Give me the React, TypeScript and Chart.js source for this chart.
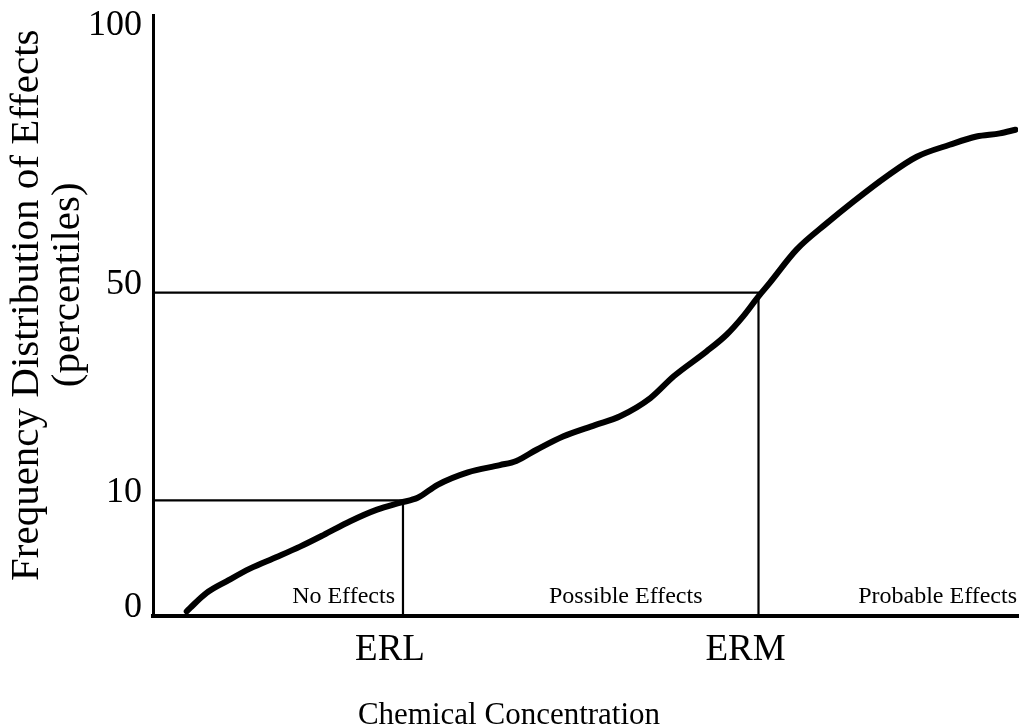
import { useEffect, useRef } from 'react';
import { Chart, registerables, LinearScale } from 'chart.js';

Chart.register(...registerables);

// ---- data ----
const concentration = [3.9, 4.3, 6.2, 8.5, 11.2, 14.3, 17.0, 19.7, 22.8, 25.9, 28.6, 30.6, 32.9, 36.4, 40.1, 42.0, 44.4, 47.4, 51.1, 54.0, 57.5, 60.2, 64.0, 66.3, 68.2, 70.0, 71.3, 74.4, 77.9, 81.0, 84.8, 88.3, 92.1, 95.2, 97.9, 99.7];
const percentile = [0.4, 0.7, 2.0, 3.0, 4.1, 5.1, 6.0, 7.0, 8.2, 9.2, 9.8, 10.5, 13.0, 15.4, 16.8, 17.6, 19.8, 22.3, 24.5, 26.2, 29.7, 33.9, 38.7, 41.9, 45.4, 49.3, 51.9, 58.3, 63.4, 67.6, 72.4, 76.2, 78.5, 80.1, 80.7, 81.4];
const yTickValues = [0, 10, 50, 100];
const xTickValues = [28.9, 70.0]; // ERL, ERM concentrations
const xTickLabels = ['ERL', 'ERM'];
const thresholdPercentiles = [10, 50];
const regionLabels = ['No Effects', 'Possible Effects', 'Probable Effects'];

const FONT = '"Liberation Serif", "Times New Roman", serif';

// Linear scale whose lowest segment (below breakValue) is stretched by a factor
class StretchedScale extends LinearScale {
  static id = 'stretched';
  static defaults = {};
  _tf(v: number) {
    const b = (this.options as any).breakValue;
    const k = (this.options as any).stretch;
    return v <= b ? v * k : b * k + (v - b);
  }
  _inv(t: number) {
    const b = (this.options as any).breakValue;
    const k = (this.options as any).stretch;
    return t <= b * k ? t / k : t - b * k + b;
  }
  getPixelForValue(value: number) {
    const t0 = this._tf(this.min);
    const t1 = this._tf(this.max);
    return this.getPixelForDecimal((this._tf(value) - t0) / (t1 - t0));
  }
  getValueForPixel(pixel: number) {
    const t0 = this._tf(this.min);
    const t1 = this._tf(this.max);
    const d = this.getDecimalForPixel(pixel);
    return this._inv(t0 + d * (t1 - t0));
  }
}
Chart.register(StretchedScale as any);

const regionLabelPlugin = {
  id: 'regionLabels',
  afterDatasetsDraw(chart: any) {
    const { ctx, chartArea, scales } = chart;
    const x = scales.x;
    const y = scales.y;
    const base = y.getPixelForValue(0) - 13;
    const rights = [
      x.getPixelForValue(xTickValues[0]) - 8,
      x.getPixelForValue(xTickValues[1]) - 56,
      chartArea.right - 1,
    ];
    ctx.save();
    ctx.font = `24px ${FONT}`;
    ctx.fillStyle = '#000';
    ctx.textAlign = 'right';
    ctx.textBaseline = 'alphabetic';
    regionLabels.forEach((t, i) => ctx.fillText(t, rights[i], base));
    ctx.restore();
  },
};

export default function App() {
  const ref = useRef<HTMLCanvasElement | null>(null);

  useEffect(() => {
    document.body.style.margin = '0';
    const canvas = ref.current;
    if (!canvas) return;

    const curve = concentration.map((c, i) => ({ x: c, y: percentile[i] }));
    const refLines = xTickValues.map((c, i) => [
      { x: 0, y: thresholdPercentiles[i] },
      { x: c, y: thresholdPercentiles[i] },
      { x: c, y: 0 },
    ]);

    const chart = new Chart(canvas, {
      type: 'line',
      data: {
        datasets: [
          {
            data: curve,
            borderColor: '#000',
            borderWidth: 6,
            pointRadius: 0,
            cubicInterpolationMode: 'monotone',
            borderCapStyle: 'round',
            borderJoinStyle: 'round',
            fill: false,
          },
          ...refLines.map((pts) => ({
            data: pts,
            borderColor: '#000',
            borderWidth: 2.2,
            pointRadius: 0,
            tension: 0,
            fill: false,
          })),
        ],
      },
      options: {
        animation: false,
        responsive: false,
        devicePixelRatio: 1,
        layout: { padding: { top: 15, right: 3, left: 0, bottom: 0 } },
        plugins: {
          legend: { display: false },
          tooltip: { enabled: false },
          title: {
            display: true,
            text: 'Chemical Concentration',
            position: 'bottom',
            color: '#000',
            padding: 0,
            font: { family: FONT, size: 31, weight: 'normal', lineHeight: 0.58 },
          },
        },
        scales: {
          x: {
            type: 'linear',
            min: 0,
            max: 100,
            grid: { display: false, drawTicks: false },
            border: { display: true, color: '#000', width: 4 },
            afterBuildTicks: (s: any) => {
              s.ticks = xTickValues.map((v) => ({ value: v }));
            },
            afterFit: (s: any) => {
              s.height = 725 - 18 - 616;
              s.paddingLeft = 0;
              s.paddingRight = 0;
            },
            ticks: {
              autoSkip: false,
              maxRotation: 0,
              padding: 12,
              labelOffset: -13,
              color: '#000',
              font: { family: FONT, size: 37 },
              callback: (_v: any, i: number) => xTickLabels[i],
            },
          },
          y: {
            type: 'stretched' as any,
            min: 0,
            max: 103.5,
            breakValue: 10,
            stretch: 2.228,
            grid: { display: false, drawTicks: false },
            border: { display: true, color: '#000', width: 3 },
            afterBuildTicks: (s: any) => {
              s.ticks = yTickValues.map((v) => ({ value: v }));
            },
            afterFit: (s: any) => {
              s.width = 153;
              s.paddingTop = 0;
              s.paddingBottom = 0;
            },
            ticks: {
              autoSkip: false,
              padding: 11,
              labelOffset: -8,
              color: '#000',
              font: { family: FONT, size: 36 },
              callback: (v: any) => String(v),
            },
            title: {
              display: true,
              text: ['  Frequency Distribution of Effects', '      (percentiles)'],
              color: '#000',
              padding: { top: 6.5, bottom: 0 },
              font: { family: FONT, size: 41, lineHeight: 1.0 },
            },
          } as any,
        },
      },
      plugins: [regionLabelPlugin],
    } as any);

    return () => chart.destroy();
  }, []);

  return (
    <div style={{ width: 1021, height: 725, background: '#fff' }}>
      <canvas ref={ref} width={1021} height={725} />
    </div>
  );
}
